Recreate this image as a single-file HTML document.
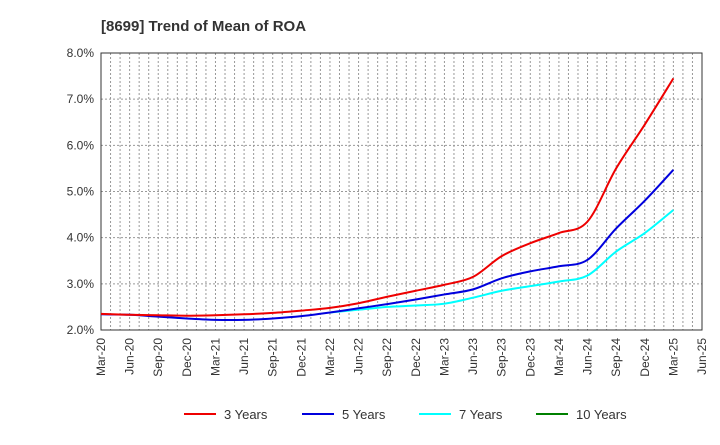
<!DOCTYPE html>
<html><head><meta charset="utf-8"><style>
body{margin:0;background:#fff;font-family:"Liberation Sans",sans-serif}
svg text{font-family:"Liberation Sans",sans-serif}
</style></head><body>
<svg id="c" width="720" height="440">
<text x="101" y="31" font-size="15" font-weight="bold" fill="#333">[8699]  Trend of Mean of ROA</text>
<g id="grid"></g><g id="axes"></g><g id="lines"></g><g id="legend"></g>
</svg>
<script>
const xLabels=["Mar-20","Jun-20","Sep-20","Dec-20","Mar-21","Jun-21","Sep-21","Dec-21","Mar-22","Jun-22","Sep-22","Dec-22","Mar-23","Jun-23","Sep-23","Dec-23","Mar-24","Jun-24","Sep-24","Dec-24","Mar-25","Jun-25"];
const yTicks=[2,3,4,5,6,7,8];
const s3=[2.35,2.33,2.32,2.31,2.32,2.34,2.37,2.42,2.48,2.58,2.72,2.85,2.98,3.15,3.6,3.88,4.1,4.35,5.5,6.45,7.45];
const s5=[2.34,2.33,2.29,2.25,2.22,2.22,2.25,2.3,2.38,2.47,2.56,2.66,2.77,2.88,3.12,3.27,3.38,3.52,4.2,4.8,5.47];
const s7=[null,null,null,null,null,null,null,null,2.38,2.44,2.5,2.53,2.57,2.7,2.85,2.95,3.05,3.18,3.7,4.1,4.6];
const s10=[];
const L=101,R=702,T=53,B=330;
const X=i=>L+(R-L)*i/(xLabels.length-1);
const Y=v=>B-(v-2)/6*(B-T);
const ns="http://www.w3.org/2000/svg";
function mk(p,t,a){const e=document.createElementNS(ns,t);for(const k in a)e.setAttribute(k,a[k]);document.getElementById(p).appendChild(e);return e;}
for(let m=1;m<(xLabels.length-1)*3;m++){const x=L+(R-L)*m/((xLabels.length-1)*3);
const e=mk('grid','line',{x1:x,x2:x,y1:T,y2:B,stroke:'#999','stroke-dasharray':'2,2','stroke-width':1});
}
yTicks.forEach(v=>{const y=Y(v);
const g=mk('grid','line',{x1:L,x2:R,y1:y,y2:y,stroke:'#999','stroke-dasharray':'2,2'});

const t=mk('axes','text',{x:L-7,y:y+4,'text-anchor':'end','font-size':12,fill:'#333'});t.textContent=v.toFixed(1)+'%';
});
const fr=mk('axes','rect',{x:L,y:T,width:R-L,height:B-T,fill:'none',stroke:'#333'});

xLabels.forEach((l,i)=>{const x=X(i);const t=mk('axes','text',{x:x+4,y:B+8,'text-anchor':'end','font-size':12,fill:'#333',transform:`rotate(-90 ${x+4} ${B+8})`});t.textContent=l;
});
function line(d,c,n){const pts=[];d.forEach((v,i)=>{if(v!=null)pts.push([X(i),Y(v)]);});if(pts.length<2)return;
let p='M'+pts[0][0]+','+pts[0][1];
for(let i=0;i<pts.length-1;i++){const p0=pts[Math.max(0,i-1)],p1=pts[i],p2=pts[i+1],p3=pts[Math.min(pts.length-1,i+2)];
const c1x=p1[0]+(p2[0]-p0[0])/6,c1y=p1[1]+(p2[1]-p0[1])/6,c2x=p2[0]-(p3[0]-p1[0])/6,c2y=p2[1]-(p3[1]-p1[1])/6;
p+=`C${c1x},${c1y} ${c2x},${c2y} ${p2[0]},${p2[1]}`;}
const e=mk('lines','path',{d:p,fill:'none',stroke:c,'stroke-width':2,'stroke-linejoin':'round'});
}
line(s7,'#00ffff','series-7-years');line(s5,'#0000dd','series-5-years');line(s3,'#ee0000','series-3-years');line(s10,'#008000','series-10-years');
[["3 Years","#ee0000",184],["5 Years","#0000dd",302],["7 Years","#00ffff",419],["10 Years","#008000",536]].forEach(([n,c,x])=>{
const l=mk('legend','line',{x1:x,x2:x+32,y1:414,y2:414,stroke:c,'stroke-width':2});

const t=mk('legend','text',{x:x+40,y:419,'font-size':13,fill:'#333'});t.textContent=n;
});
</script>
</body></html>
